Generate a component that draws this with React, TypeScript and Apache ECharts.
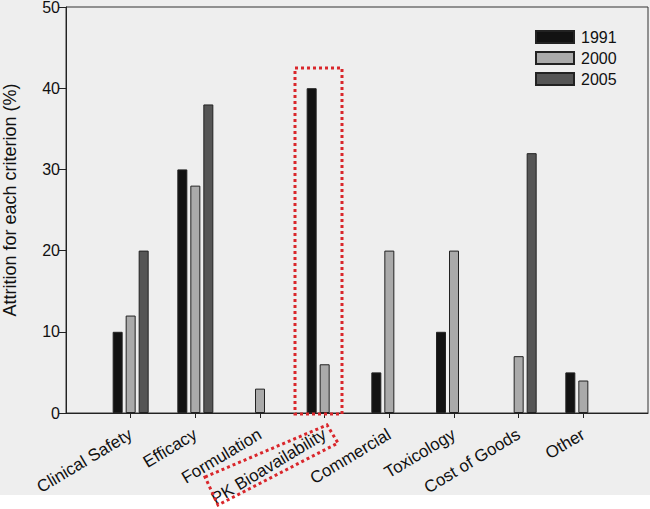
import React, { useEffect, useRef } from "react";
import * as echarts from "echarts";

const categories = ["", "Clinical Safety", "Efficacy", "Formulation", "PK Bioavailability", "Commercial", "Toxicology", "Cost of Goods", "Other", ""];
const s1991 = [null, 10, 30, null, 40, 5, 10, null, 5, null];
const s2000 = [null, 12, 28, 3, 6, 20, 20, 7, 4, null];
const s2005 = [null, 20, 38, null, null, null, null, 32, null, null];
const seriesNames = ["1991", "2000", "2005"];
const yTicks = [0, 10, 20, 30, 40, 50];

export default function App() {
  const ref = useRef<HTMLDivElement>(null);
  useEffect(() => {
    if (!ref.current) return;
    const chart = echarts.init(ref.current, null, { renderer: "svg" });
    const font = "Liberation Sans, Arial, Helvetica, sans-serif";
    const colors = ["#121212", "#aaaaaa", "#555555"];
    const data = [s1991, s2000, s2005];
    chart.setOption({
      animation: false,
      backgroundColor: "transparent",
      textStyle: { fontFamily: font },
      grid: {
        left: 66, right: 2, top: 7, bottom: 96,
        outerBoundsMode: "none",
        containLabel: false,
        show: true, borderColor: "#333", borderWidth: 1, backgroundColor: "transparent",
      },
      legend: {
        orient: "vertical",
        left: 530, top: 24,
        icon: "rect",
        itemWidth: 38, itemHeight: 12, itemGap: 5,
        textStyle: { fontSize: 16, color: "#111", fontFamily: font, padding: [0, 0, 0, 2] },
        data: seriesNames,
      },
      xAxis: {
        type: "category",
        data: categories,
        boundaryGap: false,
        axisLine: { lineStyle: { color: "#222", width: 1 } },
        axisTick: { show: true, length: 5, interval: (i: number) => i > 0 && i < categories.length - 1, lineStyle: { color: "#222" } },
        axisLabel: { interval: 0, rotate: 31, fontSize: 17, color: "#111", margin: 20, fontFamily: font },
        splitLine: { show: false },
      },
      yAxis: {
        type: "value",
        min: yTicks[0], max: yTicks[yTicks.length - 1], interval: 10,
        name: "Attrition for each criterion (%)",
        nameLocation: "middle",
        nameGap: 47,
        nameTextStyle: { fontSize: 18, color: "#111", fontFamily: font, padding: [0, 0, 0, 20] },
        axisLine: { show: true, lineStyle: { color: "#222", width: 1 } },
        axisTick: { show: true, length: 7, lineStyle: { color: "#222" } },
        axisLabel: { fontSize: 16, color: "#111", margin: 6, fontFamily: font },
        splitLine: { show: false },
      },
      series: seriesNames.map((n, i) => ({
        name: n,
        type: "bar",
        data: data[i],
        barWidth: 10,
        barGap: "30%",
        itemStyle: { color: colors[i], borderColor: "#222", borderWidth: 1 },
      })),
      graphic: [
        {
          type: "rect",
          z: 100,
          shape: { x: 295, y: 68, width: 47, height: 346 },
          style: { fill: "none", stroke: "#d9262b", lineWidth: 3, lineDash: [3, 3] },
        },
        {
          type: "polygon",
          z: 100,
          shape: { points: [[205, 477], [327, 425], [338, 443], [218, 505]] },
          style: { fill: "none", stroke: "#d9262b", lineWidth: 3, lineDash: [3, 3] },
        },
      ],
    });
    return () => chart.dispose();
  }, []);
  return (
    <div
      ref={ref}
      style={{
        position: "absolute", left: 0, top: 0, width: 650, height: 509,
        background: "linear-gradient(#eeeeee 0px, #eeeeee 495px, #ffffff 495px)",
      }}
    />
  );
}
